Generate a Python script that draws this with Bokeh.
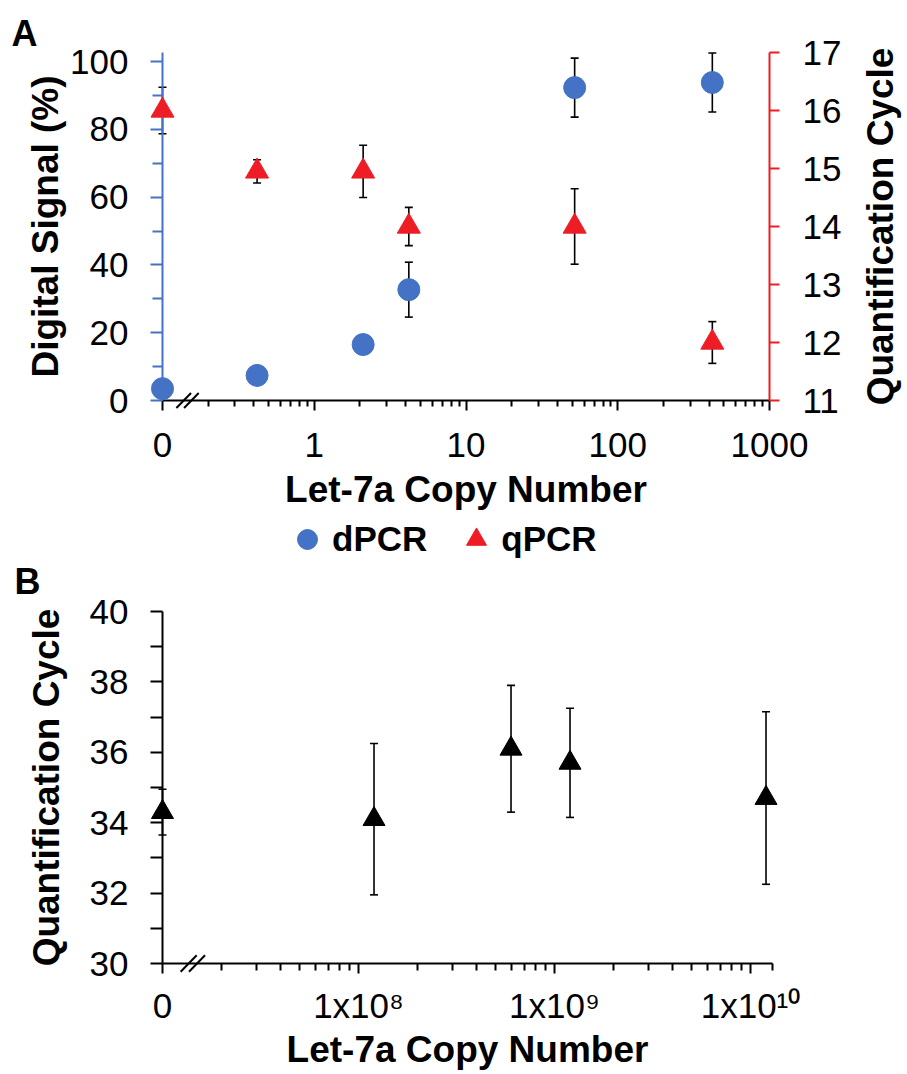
import math
from bokeh.plotting import figure
from bokeh.models import (ColumnDataSource, Range1d, LinearAxis, FixedTicker,
                          Whisker, TeeHead, Legend, LegendItem, Label)
from bokeh.layouts import column
from bokeh.embed import file_html
from bokeh.resources import INLINE

FONT = "Liberation Sans"
BLUE = "#4472C4"
RED = "#EE1C25"

# ---------------- Panel A data ----------------
COPY_A = [0, 0.42, 2.1, 4.2, 52, 420]          # 0 is drawn at the axis break position
DPCR = [3.5, 7.4, 16.5, 32.7, 92.3, 93.8]       # Digital signal (%)
DPCR_ERR = [1.0, 1.2, 1.5, 8.1, 8.7, 8.7]
QPCR = [16.0, 14.95, 14.95, 14.0, 14.0, 12.0]   # Quantification cycle
QPCR_ERR = [0.4, 0.2, 0.45, 0.33, 0.65, 0.36]
ZERO_POS_A = 0.1
X_TICKS_A = [0.1, 1, 10, 100, 1000]
X_TICK_LABELS_A = ["0", "1", "10", "100", "1000"]
Y_TICKS_A = [0, 20, 40, 60, 80, 100]
Y_MINOR_A = [10, 30, 50, 70, 90]
Y_MAX_A = 102.65
Q_TICKS_A = [11, 12, 13, 14, 15, 16, 17]
BREAK_X_A = [0.138, 0.155]
SERIES = ["dPCR", "qPCR"]

# ---------------- Panel B data ----------------
COPY_B = [0, 1.2e8, 6.0e8, 1.2e9, 1.2e10]
CQ_B = [34.3, 34.1, 36.1, 35.7, 34.7]
CQ_B_ERR = [0.65, 2.15, 1.8, 1.55, 2.45]
ZERO_POS_B = 1e7
X_MAX_B = 1.3e10
X_TICKS_B = [1e7, 1e8, 1e9, 1e10]
X_TICK_LABELS_B = ["0", "1x10\u2078", "1x10\u2079", "1x10\u00b9\u2070"]
Y_TICKS_B = [30, 32, 34, 36, 38, 40]
Y_MINOR_B = [31, 33, 35, 37, 39]
BREAK_X_B = [1.36e7, 1.5e7]

# ---------------- layout (pixels) ----------------
W = 907
HA, HB = 514, 560


def log_minors(lo_exp, hi_exp, upper):
    out = []
    for k in range(lo_exp, hi_exp + 1):
        for m in range(2, 10):
            v = m * 10 ** k
            if v < upper:
                out.append(v)
    return out


def style_axis(ax, color, major_out, minor_out, standoff, label_standoff):
    ax.axis_line_color = color
    ax.axis_line_width = 2
    ax.major_tick_line_color = color
    ax.major_tick_line_width = 2
    ax.major_tick_in = 0
    ax.major_tick_out = major_out
    ax.minor_tick_line_color = color
    ax.minor_tick_line_width = 2
    ax.minor_tick_in = 0
    ax.minor_tick_out = minor_out
    ax.major_label_text_font = FONT
    ax.major_label_text_font_size = "35px"
    ax.major_label_text_color = "black"
    ax.major_label_standoff = standoff
    ax.axis_label_text_font = FONT
    ax.axis_label_text_font_size = "37px"
    ax.axis_label_text_font_style = "bold"
    ax.axis_label_text_color = "black"
    ax.axis_label_standoff = label_standoff


def make_fig(h, xr, yr):
    p = figure(frame_width=W, frame_height=h, x_axis_type="log",
               x_range=xr, y_range=yr, title=None,
               output_backend="svg", toolbar_location=None,
               min_border=0, min_border_left=0, min_border_right=0,
               min_border_top=0, min_border_bottom=0)
    p.xgrid.visible = False
    p.ygrid.visible = False
    p.outline_line_color = None
    p.background_fill_color = "white"
    p.border_fill_color = "white"
    return p


def panel_letter(p, text, x, y_from_top, h):
    p.add_layout(Label(x=x, y=h - y_from_top, x_units="screen", y_units="screen",
                       text=text, text_baseline="alphabetic", text_align="left",
                       text_font=FONT, text_font_size="36px",
                       text_font_style="bold", text_color="black"))


def whisker(src, lo, hi, yr="default"):
    return Whisker(source=src, base="x", lower=lo, upper=hi, dimension="height",
                   y_range_name=yr, line_color="black", line_width=1.6,
                   upper_head=TeeHead(size=8, line_color="black", line_width=1.6),
                   lower_head=TeeHead(size=8, line_color="black", line_width=1.6))


# =============== Panel A ===============
ax0, ax1 = 162, 769          # x = 0.1 ("0") and x = 1000
ay0, ay100 = 400, 61         # y = 0 and y = 100
aq11, aq17 = 400, 52         # q = 11 and q = 17
ppd = (ax1 - ax0) / 4.0
ppy = (ay0 - ay100) / 100.0
ppq = (aq11 - aq17) / 6.0
xrA = Range1d(0.1 / 10 ** (ax0 / ppd), 1000 * 10 ** ((W - ax1) / ppd))
yrA = Range1d(-(HA - ay0) / ppy, 100 + ay100 / ppy)
pA = make_fig(HA, xrA, yrA)
pA.extra_y_ranges = {"q": Range1d(11 - (HA - aq11) / ppq, 17 + aq17 / ppq)}

xa = [ZERO_POS_A if c == 0 else c for c in COPY_A]
srcA = ColumnDataSource(dict(
    x=xa, d=DPCR, d_lo=[v - e for v, e in zip(DPCR, DPCR_ERR)],
    d_hi=[v + e for v, e in zip(DPCR, DPCR_ERR)],
    q=QPCR, q_lo=[v - e for v, e in zip(QPCR, QPCR_ERR)],
    q_hi=[v + e for v, e in zip(QPCR, QPCR_ERR)]))

pA.add_layout(whisker(srcA, "d_lo", "d_hi"))
pA.add_layout(whisker(srcA, "q_lo", "q_hi", "q"))

pA.scatter("x", "d", source=srcA, marker="circle", size=22,
           fill_color=BLUE, line_color=BLUE, level="annotation")
pA.scatter("x", "q", source=srcA, marker="triangle", size=23,
           fill_color=RED, line_color=RED, y_range_name="q",
           level="annotation")

pA.scatter(x=BREAK_X_A, y=[0, 0], marker="dash", size=21, angle=0.8,
           line_color="black", line_width=2, level="annotation")

xaxA = pA.xaxis[0]
style_axis(xaxA, "black", 10, 6, 22, 9)
xaxA.fixed_location = 0
xaxA.bounds = (0.1, 1000)
xaxA.ticker = FixedTicker(ticks=X_TICKS_A, minor_ticks=log_minors(-1, 2, 1000))
xaxA.major_label_overrides = dict(zip(X_TICKS_A, X_TICK_LABELS_A))
xaxA.axis_label = "Let-7a Copy Number"

yaxA = pA.yaxis[0]
style_axis(yaxA, BLUE, 12, 10, 22, 1)
yaxA.fixed_location = 0.1
yaxA.bounds = (0, Y_MAX_A)
yaxA.ticker = FixedTicker(ticks=Y_TICKS_A, minor_ticks=Y_MINOR_A)
yaxA.axis_label = "Digital Signal (%)"

raxA = LinearAxis(y_range_name="q")
style_axis(raxA, RED, 10, 0, 23, 14)
raxA.fixed_location = 1000
raxA.bounds = (11, 17)
raxA.ticker = FixedTicker(ticks=Q_TICKS_A, minor_ticks=[])
pA.add_layout(raxA, "right")

pA.add_layout(Label(x=880, y=HA - 226, x_units="screen", y_units="screen",
                    text="Quantification Cycle", angle=math.pi / 2,
                    text_align="center", text_baseline="alphabetic",
                    text_font=FONT, text_font_size="37px",
                    text_font_style="bold", text_color="black"))
panel_letter(pA, "A", 11, 33, HA)

# =============== Panel B (also carries panel A's legend at its top) ===============
bx0, bx10 = 162, 750         # x = 1e7 ("0") and x = 1e10
by30, by40 = 963 - HA, 611 - HA   # y = 30 and y = 40 (inside panel B)
ppdB = (bx10 - bx0) / 3.0
ppyB = (by30 - by40) / 10.0
xrB = Range1d(1e7 / 10 ** (bx0 / ppdB), 1e10 * 10 ** ((W - bx10) / ppdB))
yrB = Range1d(30 - (HB - by30) / ppyB, 40 + by40 / ppyB)
pB = make_fig(HB, xrB, yrB)

xb = [ZERO_POS_B if c == 0 else c for c in COPY_B]
srcB = ColumnDataSource(dict(
    x=xb, y=CQ_B, lo=[v - e for v, e in zip(CQ_B, CQ_B_ERR)],
    hi=[v + e for v, e in zip(CQ_B, CQ_B_ERR)]))
pB.add_layout(whisker(srcB, "lo", "hi"))
pB.scatter("x", "y", source=srcB, marker="triangle", size=22,
           fill_color="black", line_color="black", level="annotation")
pB.scatter(x=BREAK_X_B, y=[30, 30], marker="dash", size=23, angle=0.8,
           line_color="black", line_width=2, level="annotation")

# legend keys for panel A's two series: panel A's data fall outside panel B's
# ranges, so these renderers only supply the legend glyphs
leg_d = pB.scatter(x=xa, y=DPCR, marker="circle", size=22,
                   fill_color=BLUE, line_color=BLUE)
leg_q = pB.scatter(x=xa, y=QPCR, marker="triangle", size=23,
                   fill_color=RED, line_color=RED)
legend = Legend(items=[LegendItem(label=SERIES[0], renderers=[leg_d]),
                       LegendItem(label=SERIES[1], renderers=[leg_q])],
                orientation="horizontal", location=(282, HB - 50),
                glyph_width=50, glyph_height=50, label_standoff=0, spacing=24,
                padding=0, margin=0, border_line_color=None,
                background_fill_alpha=0,
                label_text_font=FONT, label_text_font_size="35px",
                label_text_font_style="bold", label_text_color="black")
pB.add_layout(legend, "center")

xaxB = pB.xaxis[0]
style_axis(xaxB, "black", 10, 7, 12, 1)
xaxB.fixed_location = 30
xaxB.bounds = (1e7, X_MAX_B)
xaxB.ticker = FixedTicker(ticks=X_TICKS_B,
                          minor_ticks=log_minors(7, 9, 1e10) + [1.29e10])
xaxB.major_label_overrides = dict(zip(X_TICKS_B, X_TICK_LABELS_B))
xaxB.axis_label = "Let-7a Copy Number"

yaxB = pB.yaxis[0]
style_axis(yaxB, "black", 12, 12, 22, 20)
yaxB.fixed_location = 1e7
yaxB.bounds = (30, 40)
yaxB.ticker = FixedTicker(ticks=Y_TICKS_B, minor_ticks=Y_MINOR_B)
yaxB.axis_label = "Quantification Cycle"

panel_letter(pB, "B", 14, 581 - HA, HB)

layout = column(pA, pB)
open("out.html", "w").write(file_html(layout, INLINE))
